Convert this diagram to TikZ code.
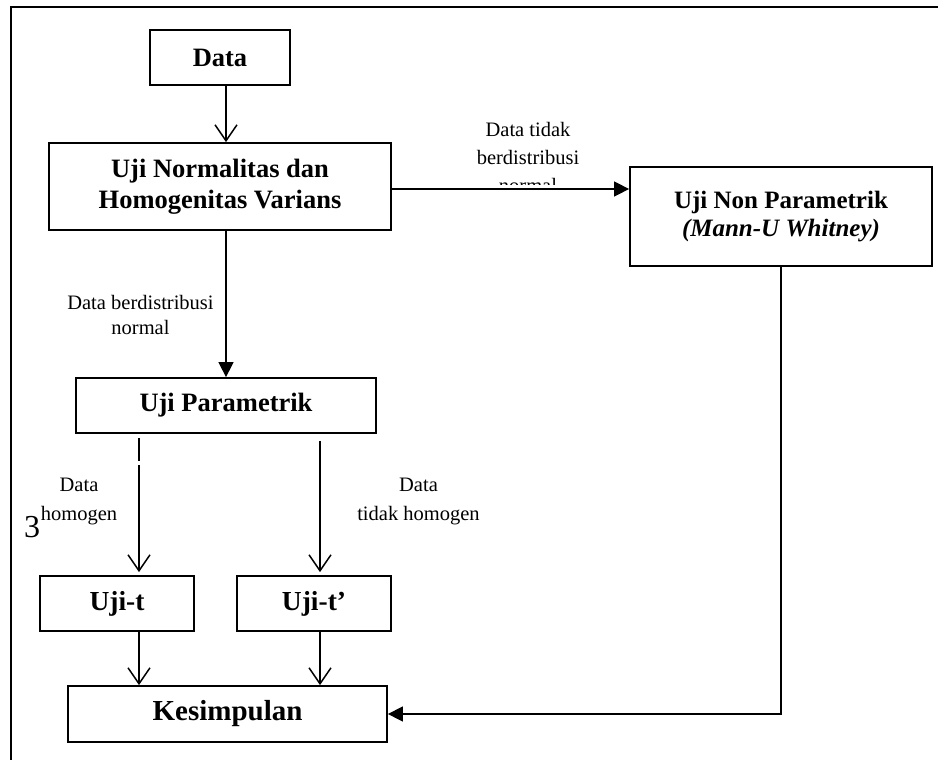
\documentclass[tikz,border=0pt]{standalone}
\usepackage{fontspec}
\setmainfont{Liberation Serif}
\usetikzlibrary{arrows.meta}
\begin{document}
\begin{tikzpicture}[x=1pt,y=-1pt,
  box/.style={draw,line width=1.8pt,rectangle,inner sep=0pt,align=center,
    font=\bfseries\fontsize{26.5}{31}\selectfont},
  lbl/.style={inner sep=0pt,align=center,font=\fontsize{20.5}{28}\selectfont},
  conn/.style={line width=1.5pt},
  openarr/.style={conn,-{Straight Barb[length=16pt,width=22pt,line width=1.5pt]}},
  fillarr/.style={conn,-{Triangle[length=15pt,width=15pt]}}]
\useasboundingbox (0,0) rectangle (938,760);
% frame
\draw[line width=1.8pt] (11,760) -- (11,7) -- (938,7);
% boxes
\node[box,minimum width=140,minimum height=55] (data) at (220,57.5) {Data};
\node[box,minimum width=342,minimum height=87] (norm) at (220,186.5) {Uji Normalitas dan\\Homogenitas Varians};
\node[box,minimum width=302,minimum height=99,font=\bfseries\fontsize{25}{28}\selectfont] (nonp) at (781,216.5) {Uji Non Parametrik\\\textit{(Mann-U Whitney)}};
\node[box,minimum width=300,minimum height=55] (param) at (226,405.5) {Uji Parametrik};
\node[box,minimum width=154,minimum height=55,font=\bfseries\fontsize{27.5}{31}\selectfont] (ujit) at (117,603.5) {Uji-t};
\node[box,minimum width=154,minimum height=55,font=\bfseries\fontsize{27.5}{31}\selectfont] (ujitt) at (314,603.5) {Uji-t’};
\node[box,minimum width=319,minimum height=56,font=\bfseries\fontsize{29}{31}\selectfont] (kes) at (227.5,714) {Kesimpulan};
% labels
\begin{scope}
\clip (380,100) rectangle (680,184.5);
\node[lbl] (ltop) at (528,157) {Data tidak\\berdistribusi\\normal};
\end{scope}
\node[lbl,font=\fontsize{20.5}{25}\selectfont] (lnorm) at (140.5,314.5) {Data berdistribusi\\normal};
\node[lbl,font=\fontsize{20.5}{29}\selectfont] (lhom) at (79,501.5) {Data\\homogen};
\node[lbl,font=\fontsize{20.5}{29}\selectfont] (lthom) at (418.5,501.5) {Data\\tidak homogen};
\node[inner sep=0pt,font=\fontsize{32}{32}\selectfont] (three) at (32,527) {3};
% helper coordinates
\coordinate (lx) at (139,0);
\coordinate (rx) at (320,0);
\coordinate (g1) at (139,461);
\coordinate (g2) at (139,465);
% connectors
\draw[openarr] (data.south -| param.north) -- (norm.north -| param.north);
\draw[fillarr] ([yshift=-2.5pt]norm.east) -- ([yshift=-2.5pt]norm.east -| nonp.west);
\draw[fillarr] (norm.south -| param.north) -- (param.north);
\draw[conn,shorten <=4pt] (param.south -| lx) -- (g1);
\draw[openarr,shorten >=3pt] (g2) -- (ujit.north -| lx);
\draw[openarr,shorten <=7pt,shorten >=3pt] (param.south -| rx) -- (ujitt.north -| rx);
\draw[openarr] (ujit.south -| lx) -- (kes.north -| lx);
\draw[openarr] (ujitt.south -| rx) -- (kes.north -| rx);
\draw[fillarr] (nonp.south) -- (nonp.south |- kes.east) -- (kes.east);
\end{tikzpicture}
\end{document}
